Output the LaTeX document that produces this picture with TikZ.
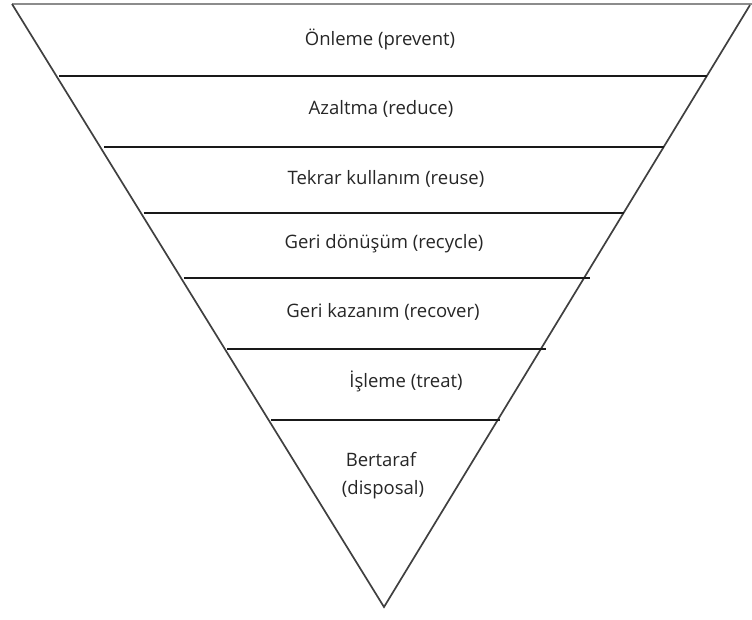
\documentclass[tikz,border=0pt]{standalone}
\usepackage{fontspec}
\setmainfont{Open Sans}
\begin{document}
\begin{tikzpicture}[x=1pt,y=-1pt,
  edge/.style={draw=black!75,line width=1.7pt,line join=miter},
  topedge/.style={draw=black!45,line width=2.6pt},
  band/.style={draw=black!90,line width=1.5pt},
  label/.style={font=\fontsize{18.5}{21}\selectfont,text=black!85,inner sep=0pt,anchor=center}]
\useasboundingbox (0,0) rectangle (752,619);
% outline of the inverted pyramid
\coordinate (tl) at (12,4);
\coordinate (tr) at (752,4);
\coordinate (rc) at (750,5);
\coordinate (apex) at (384,607);
\draw[topedge] (tl) -- (tr);
\draw[edge] (tl) -- (apex) -- (rc);
% dividing lines between the levels
\draw[band] (59,76) -- (707,76);
\draw[band] (104,147) -- (664,147);
\draw[band] (144,213) -- (624,213);
\draw[band] (184,278) -- (590,278);
\draw[band] (227,349) -- (546,349);
\draw[band] (271,420) -- (500,420);
% level labels
\node[label] (l1) at (380,39) {Önleme (prevent)};
\node[label] (l2) at (381,109) {Azaltma (reduce)};
\node[label] (l3) at (386,179) {Tekrar kullanım (reuse)};
\node[label] (l4) at (384,244) {Geri dönüşüm (recycle)};
\node[label] (l5) at (383,312) {Geri kazanım (recover)};
\node[label] (l6) at (406,381) {İşleme (treat)};
\node[label] (l7a) at (381,460) {Bertaraf};
\node[label] (l7b) at (383,490) {(disposal)};
\end{tikzpicture}
\end{document}
